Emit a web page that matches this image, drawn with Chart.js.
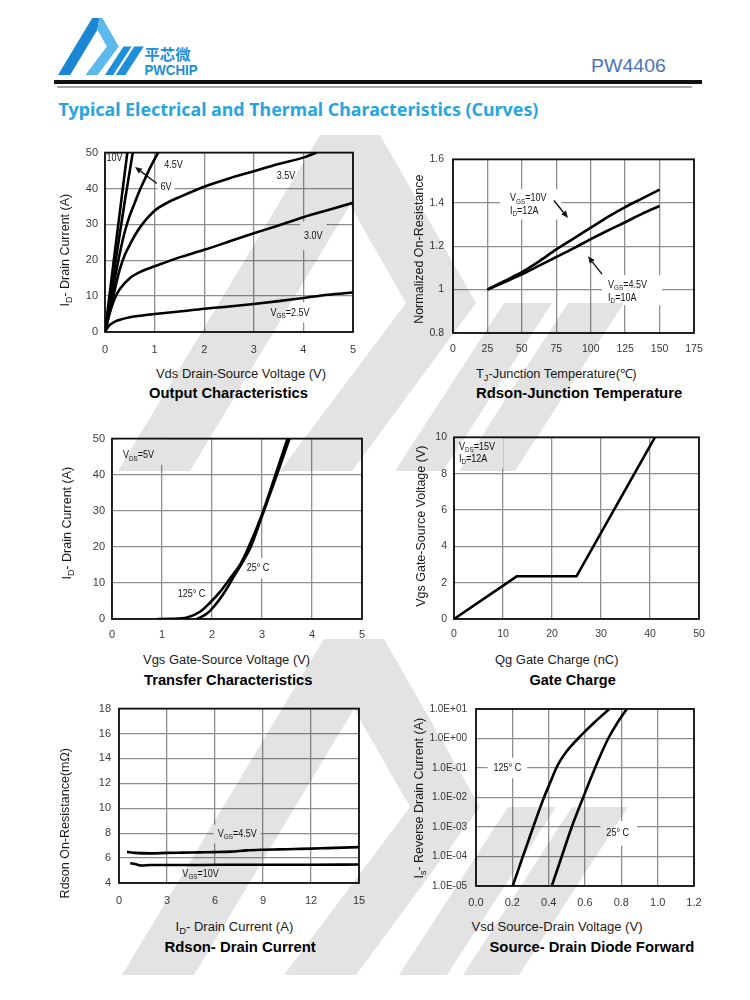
<!DOCTYPE html>
<html><head><meta charset="utf-8">
<script src="https://cdn.jsdelivr.net/npm/chart.js@4.4.1/dist/chart.umd.min.js"></script>
<style>
html,body{margin:0;padding:0;background:#fff;}
#page{position:relative;width:750px;height:1000px;overflow:hidden;background:#fff;}
.t{position:absolute;left:0;top:0;white-space:nowrap;line-height:1.15;z-index:5;}
.t sub{font-size:0.72em;vertical-align:-0.28em;line-height:0;}
canvas{position:absolute;z-index:2;}
#wm{position:absolute;left:0;top:0;mix-blend-mode:multiply;pointer-events:none;z-index:20;}
#logo{position:absolute;left:0;top:0;z-index:3;}
.bar{position:absolute;}
</style></head><body><div id="page">
<svg id="logo" width="160" height="90" viewBox="0 0 160 90"></svg>
<div class="bar" style="left:54px;top:80px;width:648px;height:4px;background:#111;"></div>
<div class="bar" style="left:57px;top:86px;width:635px;height:2px;background:#a8a8a8;"></div>
<svg id="wm" width="750" height="1000" viewBox="0 0 750 1000"></svg>
</div>
<script>
// ================= DATA =================
// Output Characteristics: [Vds (V), Id (A)]
const outVgs10 = [[0,0],[0.2,22.5],[0.45,50]];
const outVgs6  = [[0,0],[0.2,18.5],[0.4,36.5],[0.56,50]];
const outVgs45 = [[0,0],[0.1,7.5],[0.2,15],[0.3,22],[0.4,28],[0.5,32.5],[0.6,36],[0.7,39.5],[0.8,42.5],[0.9,45.5],[1.07,50]];
const outVgs35 = [[0,0],[0.1,6],[0.2,12],[0.3,17.5],[0.4,21.5],[0.5,24.3],[0.6,26.9],[0.75,30],[1,33.8],[1.25,36],[1.5,37.6],[2,40.5],[2.5,42.8],[3,44.8],[3.5,46.8],[4,48.6],[4.27,50]];
const outVgs30 = [[0,0],[0.1,5.5],[0.2,9.5],[0.3,12],[0.5,15],[0.75,17],[1,18.3],[1.5,20.8],[2,22.9],[2.5,25.2],[3,27.5],[3.5,29.7],[4,32],[4.5,34],[5,36]];
const outVgs25 = [[0,0],[0.05,1.2],[0.1,2],[0.2,2.9],[0.3,3.4],[0.5,4.1],[0.75,4.6],[1,5.0],[1.5,5.7],[2,6.5],[2.5,7.1],[3,7.8],[3.5,8.6],[4,9.5],[4.5,10.4],[5,11.0]];
const outXTicks = [0,1,2,3,4,5];
const outYTicks = [0,10,20,30,40,50];

// Rdson - Junction Temperature
const tjTemp    = [25,37.5,50,62.5,75,87.5,100,112.5,125,137.5,150];
const rdsonTj10 = [1.0,1.04,1.08,1.13,1.185,1.235,1.285,1.335,1.38,1.42,1.46];
const rdsonTj45 = [1.0,1.035,1.07,1.11,1.15,1.19,1.232,1.272,1.31,1.35,1.385];
const tjXTicks = [0,25,50,75,100,125,150,175];
const tjYTicks = [0.8,1.0,1.2,1.4,1.6];

// Transfer Characteristics: [Vgs (V), Id (A)]
const tr125 = [[0.9,0],[1.2,0.05],[1.5,0.4],[1.76,2.0],[1.96,4.5],[2.16,7.5],[2.36,11.2],[2.57,15.3],[2.7,18.9],[3.0,29],[3.27,40],[3.51,50]];
const tr25  = [[1.7,0],[1.9,1.5],[2.06,3.8],[2.23,7.0],[2.43,11.6],[2.63,16.2],[2.77,19.8],[3.0,28.5],[3.3,40],[3.55,50]];
const trXTicks = [0,1,2,3,4,5];
const trYTicks = [0,10,20,30,40,50];

// Gate Charge: [Qg (nC), Vgs (V)]
const gateCharge = [[0,0],[12.8,2.35],[25,2.35],[41,10]];
const gcXTicks = [0,10,20,30,40,50];
const gcYTicks = [0,2,4,6,8,10];

// Rdson - Drain Current: [Id (A), Rdson (mOhm)]
const rdsonId45 = [[0.5,6.5],[1,6.42],[2,6.38],[3,6.42],[4,6.44],[5,6.46],[6,6.48],[7,6.52],[8,6.62],[9,6.67],[10,6.7],[11,6.73],[12,6.76],[13,6.8],[14,6.84],[15,6.88]];
const rdsonId10 = [[0.7,5.58],[1,5.52],[1.4,5.4],[2,5.45],[3,5.45],[5,5.45],[8,5.47],[10,5.47],[12,5.47],[15,5.48]];
const riXTicks = [0,3,6,9,12,15];
const riYTicks = [4,6,8,10,12,14,16,18];

// Source-Drain Diode Forward: [Vsd (V), Is (A)]
const diode125 = [[0.202,1e-5],[0.258,1e-4],[0.315,1e-3],[0.374,1e-2],[0.408,0.0316],[0.442,0.1],[0.464,0.178],[0.491,0.316],[0.524,0.562],[0.562,1],[0.602,1.78],[0.644,3.16],[0.688,5.62],[0.734,10]];
const diode25  = [[0.417,1e-5],[0.472,1e-4],[0.527,1e-3],[0.59,1e-2],[0.655,1e-1],[0.69,0.316],[0.728,1],[0.775,3.16],[0.83,10]];
const dXTicks = [0,0.2,0.4,0.6,0.8,1.0,1.2];
const dYTicks = [1e-5,1e-4,1e-3,1e-2,1e-1,1,10];

// ================= RENDERING =================
const page = document.getElementById('page');
const FONT = '"Liberation Sans", Arial, Helvetica, sans-serif';
const NS = 'http://www.w3.org/2000/svg';

// logo / watermark shapes
const SHAPE_A = "122,975 324,639 384,639 480,807 356,975 284,975 410,807 354,709 194,975";
const SHAPE_LEG = "122,975 324,639 366,639 354,709 194,975";
const SHAPE_CHEV = "366,639 384,639 480,807 356,975 284,975 410,807 354,709";
const SHAPE_S1 = "399,975 447,975 556,807 508,807";
const SHAPE_S2 = "463,975 519,975 628,807 572,807";
function poly(parent, pts, fill) { const p = document.createElementNS(NS, 'polygon'); p.setAttribute('points', pts); p.setAttribute('fill', fill); parent.appendChild(p); }
function group(svg, tr) { const g = document.createElementNS(NS, 'g'); g.setAttribute('transform', tr); svg.appendChild(g); return g; }
const wm = document.getElementById('wm');
['translate(0,0)', 'translate(-4,-504)'].forEach(tr => { const g = group(wm, tr); [SHAPE_A, SHAPE_S1, SHAPE_S2].forEach(s => poly(g, s, '#e3e3e3')); });
const lg = group(document.getElementById('logo'), 'translate(37.3,-90.4) scale(0.1696)');
poly(lg, SHAPE_LEG, '#1a86d4'); poly(lg, SHAPE_CHEV, '#5cb9ec'); poly(lg, SHAPE_S1, '#1f8fdc'); poly(lg, SHAPE_S2, '#1f8fdc');

// HTML text helper (center position, fitted width)
function T(html, cx, cy, w, size, opt = {}) {
  const d = document.createElement('div');
  d.className = 't';
  d.innerHTML = html;
  d.style.fontFamily = opt.family || FONT;
  d.style.fontSize = size + 'px';
  d.style.fontWeight = opt.bold ? 'bold' : 'normal';
  d.style.color = opt.color || '#1a1a1a';
  page.appendChild(d);
  const nw = d.offsetWidth, nh = d.offsetHeight;
  const sx = w ? w / nw : 1;
  d.style.left = (cx - nw / 2) + 'px';
  d.style.top = (cy - nh / 2) + 'px';
  d.style.transform = (opt.rot ? 'rotate(' + opt.rot + 'deg) ' : '') + 'scaleX(' + sx.toFixed(3) + ')';
}

// header
T('平芯微', 167, 53.5, 46, 15, {bold: true, color: '#1e8dd8', family: '"Noto Sans CJK SC", sans-serif'});
T('PWCHIP', 170.5, 70, 53, 14, {bold: true, color: '#1e8dd8'});
T('PW4406', 628.5, 65, 75, 18.5, {color: '#4c72b9'});
T('Typical Electrical and Thermal Characteristics (Curves)', 298, 108.5, 480, 17.5, {bold: true, color: '#27a5e1', family: '"Noto Sans", sans-serif'});

// rich annotation text on canvas
const NOTE_SIZE = 10.5, NOTE_SX = 0.86;
function parseRich(s) {
  const parts = []; const re = /_\{([^}]*)\}/g; let last = 0, m;
  while ((m = re.exec(s))) { if (m.index > last) parts.push([s.slice(last, m.index), false]); parts.push([m[1], true]); last = re.lastIndex; }
  if (last < s.length) parts.push([s.slice(last), false]);
  return parts;
}
function richWidth(ctx, parts, size) { let w = 0; for (const [t, sub] of parts) { ctx.font = (sub ? size * 0.7 : size) + 'px ' + FONT; w += ctx.measureText(t).width; } return w * NOTE_SX; }
function drawRich(ctx, parts, x, y, size) {
  ctx.save(); ctx.translate(x, y); ctx.scale(NOTE_SX, 1);
  ctx.textBaseline = 'middle'; ctx.textAlign = 'left'; ctx.fillStyle = '#111';
  let cx = 0;
  for (const [t, sub] of parts) { ctx.font = (sub ? size * 0.7 : size) + 'px ' + FONT; ctx.fillText(t, cx, sub ? size * 0.28 : 0); cx += ctx.measureText(t).width; }
  ctx.restore();
}
function noteLayout(ctx, n, xs, ys) {
  const size = n.size || NOTE_SIZE, lh = size * 1.2;
  const lines = n.lines.map(parseRich);
  const w = Math.max(...lines.map(p => richWidth(ctx, p, size)));
  const h = lh * lines.length;
  const px = xs.getPixelForValue(n.x), py = ys.getPixelForValue(n.y);
  return {l: n.align === 'left' ? px : px - w / 2, t: py - h / 2, w, h, lh, lines, size};
}
function drawArrow(ctx, x1, y1, x2, y2) {
  ctx.save(); ctx.strokeStyle = '#111'; ctx.fillStyle = '#111'; ctx.lineWidth = 1.4;
  const a = Math.atan2(y2 - y1, x2 - x1), hl = 7, hw = 3;
  const bx = x2 - hl * Math.cos(a), by = y2 - hl * Math.sin(a);
  ctx.beginPath(); ctx.moveTo(x1, y1); ctx.lineTo(bx, by); ctx.stroke();
  ctx.beginPath(); ctx.moveTo(x2, y2); ctx.lineTo(bx + hw * Math.sin(a), by - hw * Math.cos(a)); ctx.lineTo(bx - hw * Math.sin(a), by + hw * Math.cos(a)); ctx.closePath(); ctx.fill();
  ctx.restore();
}
function notesPlugin(notes, arrows) {
  return {
    id: 'notes',
    beforeDatasetsDraw(chart) {
      const {ctx, chartArea: a, scales: {x, y}} = chart;
      ctx.save();
      ctx.beginPath(); ctx.rect(a.left, a.top, a.right - a.left, a.bottom - a.top); ctx.clip();
      ctx.fillStyle = '#fff';
      notes.forEach(n => { if (!n.box) return; const r = noteLayout(ctx, n, x, y); ctx.fillRect(r.l - n.box[0], r.t - n.box[1], r.w + n.box[0] + n.box[2], r.h + n.box[1] + n.box[3]); });
      ctx.restore();
      ctx.save(); ctx.strokeStyle = '#111'; ctx.lineWidth = 1.8; ctx.strokeRect(a.left, a.top, a.right - a.left, a.bottom - a.top); ctx.restore();
    },
    afterDatasetsDraw(chart) {
      const {ctx, scales: {x, y}} = chart;
      arrows.forEach(ar => drawArrow(ctx, x.getPixelForValue(ar[0][0]), y.getPixelForValue(ar[0][1]), x.getPixelForValue(ar[1][0]), y.getPixelForValue(ar[1][1])));
      notes.forEach(n => { const r = noteLayout(ctx, n, x, y); r.lines.forEach((p, i) => drawRich(ctx, p, r.l, r.t + r.lh * (i + 0.5), r.size)); });
    }
  };
}

function buildChart(box, o) {
  const L = 64, TP = 12, R = 26, B = 30;
  const cw = box.r - box.l + L + R, ch = box.b - box.t + TP + B;
  const cv = document.createElement('canvas');
  cv.width = cw; cv.height = ch;
  Object.assign(cv.style, {left: (box.l - L) + 'px', top: (box.t - TP) + 'px', width: cw + 'px', height: ch + 'px'});
  page.appendChild(cv);
  const mkScale = (a, isX) => ({
    type: a.log ? 'logarithmic' : 'linear',
    position: isX ? 'bottom' : 'left',
    min: a.ticks[0], max: a.ticks[a.ticks.length - 1],
    afterBuildTicks: s => { s.ticks = a.ticks.map(v => ({value: v})); },
    afterFit: s => { if (isX) s.height = B; else s.width = L; },
    ticks: {autoSkip: false, maxRotation: 0, minRotation: 0, padding: a.pad, color: '#3a3a3a', font: {family: FONT, size: a.size}, callback: a.fmt},
    grid: {color: '#8e8e8e', lineWidth: 1.3, drawTicks: false},
    border: {display: false}
  });
  return new Chart(cv, {
    type: 'scatter',
    data: {datasets: o.series.map(s => ({
      data: s.map(p => ({x: p[0], y: p[1]})), showLine: true, borderColor: '#000', borderWidth: 2.6,
      pointRadius: 0, pointHoverRadius: 0, fill: false,
      tension: o.mono ? 0.4 : 0, cubicInterpolationMode: o.mono ? 'monotone' : 'default'
    }))},
    options: {
      responsive: false, animation: false, devicePixelRatio: 1, events: [],
      layout: {padding: {left: 0, top: TP, right: R, bottom: 0}},
      plugins: {legend: {display: false}, tooltip: {enabled: false}},
      scales: {x: mkScale(o.x, true), y: mkScale(o.y, false)}
    },
    plugins: [notesPlugin(o.notes || [], o.arrows || [])]
  });
}
const num = v => String(+(+v).toFixed(2));
const fix1 = v => (+v).toFixed(1);
const sci = v => { const e = Math.round(Math.log10(v)); return '1.0E' + (e < 0 ? '-' : '+') + String(Math.abs(e)).padStart(2, '0'); };
const zip = (xs, ys) => xs.map((x, i) => [x, ys[i]]);

// 1. Output Characteristics
buildChart({l: 105, t: 151, r: 353, b: 332}, {
  mono: true,
  series: [outVgs10, outVgs6, outVgs45, outVgs35, outVgs30, outVgs25],
  x: {ticks: outXTicks, fmt: num, size: 11, pad: 11},
  y: {ticks: outYTicks, fmt: num, size: 11, pad: 7},
  notes: [
    {lines: ['10V'], x: 0.19, y: 48.6},
    {lines: ['4.5V'], x: 1.38, y: 46.5},
    {lines: ['6V'], x: 1.23, y: 40.3, box: [3, 3, 3, 3]},
    {lines: ['3.5V'], x: 3.65, y: 43.4},
    {lines: ['3.0V'], x: 4.2, y: 26.8, box: [4, 8, 4, 8]},
    {lines: ['V_{GS}=2.5V'], x: 3.73, y: 5.4, box: [4, 4, 4, 4]}
  ],
  arrows: [[[1.045, 41.4], [0.605, 46.0]]]
});
T('Vds Drain-Source Voltage (V)', 241, 374, 170, 12.5);
T('I<sub>D</sub>- Drain Current (A)', 65, 250, null, 12.5, {rot: -90});
T('Output Characteristics', 228.5, 393, 159, 14, {bold: true, color: '#000'});

// 2. Rdson-Junction Temperature
buildChart({l: 453, t: 156, r: 694, b: 333}, {
  mono: true,
  series: [zip(tjTemp, rdsonTj10), zip(tjTemp, rdsonTj45)],
  x: {ticks: tjXTicks, fmt: num, size: 10.5, pad: 10},
  y: {ticks: tjYTicks, fmt: num, size: 10.5, pad: 9},
  notes: [
    {lines: ['V_{GS}=10V', 'I_{D}=12A'], align: 'left', x: 41.4, y: 1.39, box: [10, 3, 15, 2]},
    {lines: ['V_{GS}=4.5V', 'I_{D}=10A'], align: 'left', x: 112.6, y: 0.99, box: [6, 4, 15, 1]}
  ],
  arrows: [[[73.3, 1.41], [83.5, 1.33]], [[108.2, 1.071], [98, 1.153]]]
});
T('T<sub>J</sub>-Junction Temperature(℃)', 556, 374, 161, 12.5);
T('Normalized On-Resistance', 419, 249, null, 12.5, {rot: -90});
T('Rdson-Junction Temperature', 579, 393, 206, 14, {bold: true, color: '#000'});

// 3. Transfer Characteristics
buildChart({l: 112, t: 437, r: 362, b: 619}, {
  mono: true,
  series: [tr125, tr25],
  x: {ticks: trXTicks, fmt: num, size: 11, pad: 9},
  y: {ticks: trYTicks, fmt: num, size: 11, pad: 7},
  notes: [
    {lines: ['V_{DS}=5V'], align: 'left', x: 0.22, y: 45.3, box: [5, 11, 11, 3]},
    {lines: ['25° C'], x: 2.92, y: 14.1, box: [4, 4, 4, 4]},
    {lines: ['125° C'], x: 1.59, y: 6.9, box: [4, 3, 3, 3]}
  ]
});
T('Vgs Gate-Source Voltage (V)', 226.5, 660, 167, 12.5);
T('I<sub>D</sub>- Drain Current (A)', 67, 523, null, 12.5, {rot: -90});
T('Transfer Characteristics', 228, 680, 168, 14, {bold: true, color: '#000'});

// 4. Gate Charge
buildChart({l: 454, t: 436, r: 699, b: 619}, {
  mono: false,
  series: [gateCharge],
  x: {ticks: gcXTicks, fmt: num, size: 10.5, pad: 9},
  y: {ticks: gcYTicks, fmt: num, size: 10.5, pad: 7},
  notes: [
    {lines: ['V_{DS}=15V', 'I_{D}=12A'], align: 'left', x: 1.0, y: 9.14, box: [4, 4, 8, 3]}
  ]
});
T('Qg Gate Charge (nC)', 557, 660, 124, 12.5);
T('Vgs Gate-Source Voltage (V)', 421, 526, null, 12.5, {rot: -90});
T('Gate Charge', 572, 680, 86, 14, {bold: true, color: '#000'});

// 5. Rdson - Drain Current
buildChart({l: 119, t: 706, r: 359, b: 883}, {
  mono: true,
  series: [rdsonId45, rdsonId10],
  x: {ticks: riXTicks, fmt: num, size: 11, pad: 11},
  y: {ticks: riYTicks, fmt: num, size: 11, pad: 8},
  notes: [
    {lines: ['V_{GS}=4.5V'], x: 7.39, y: 7.93, box: [4, 3, 4, 3]},
    {lines: ['V_{GS}=10V'], x: 5.1, y: 4.73, box: [3, 2, 3, 2]}
  ]
});
T('I<sub>D</sub>- Drain Current (A)', 234, 927, 118, 12.5);
T('Rdson On-Resistance(mΩ)', 65, 823, null, 12.5, {rot: -90});
T('Rdson- Drain Current', 239.5, 947, 151, 14, {bold: true, color: '#000'});

// 6. Source-Drain Diode Forward
buildChart({l: 476, t: 706, r: 694, b: 886}, {
  mono: true,
  series: [diode125, diode25],
  x: {ticks: dXTicks, fmt: fix1, size: 11, pad: 10},
  y: {ticks: dYTicks, fmt: sci, size: 10, pad: 9, log: true},
  notes: [
    {lines: ['125° C'], x: 0.173, y: 0.1, box: [6, 4, 6, 4]},
    {lines: ['25° C'], x: 0.78, y: 6.07e-4, box: [6, 6, 8, 6]}
  ]
});
T('Vsd Source-Drain Voltage (V)', 556.5, 927, 171, 12.5);
T('I<sub>s</sub>- Reverse Drain Current (A)', 419, 798, null, 12.5, {rot: -90});
T('Source- Drain Diode Forward', 592, 947, 205, 14, {bold: true, color: '#000'});
</script>
</body></html>
